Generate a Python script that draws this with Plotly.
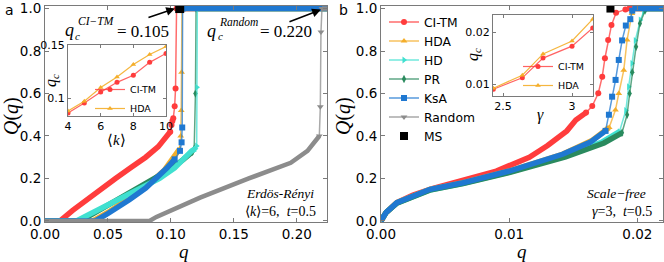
import plotly.graph_objects as go

W, H = 664, 262

# ================= Panel a : Erdos-Renyi, <k>=6, t=0.5 =================
# dense part (thick band), jump part (line + markers), flat top (Q = 1)
er_citm_q = [0, 0.012, 0.022, 0.033, 0.045, 0.056, 0.068, 0.080, 0.090, 0.097, 0.0995]
er_citm_Q = [0, 0, 0.05, 0.10, 0.15, 0.20, 0.25, 0.30, 0.35, 0.40, 0.42]
er_citm_jq = [0.0995, 0.1005, 0.1012, 0.1019, 0.1030, 0.1037, 0.1045]
er_citm_jQ = [0.42, 0.452, 0.47, 0.484, 0.54, 0.624, 1.0]
er_citm_top = [0.1045, 0.224]

er_hda_q = [0, 0.038, 0.050, 0.065, 0.080, 0.095, 0.103, 0.107]
er_hda_Q = [0, 0, 0.04, 0.10, 0.16, 0.24, 0.30, 0.34]
er_hda_jq = [0.107, 0.1078, 0.1082, 0.1085, 0.1088]
er_hda_jQ = [0.34, 0.40, 0.52, 0.70, 1.0]
er_hda_top = [0.1088, 0.224]

er_hd_q = [0, 0.025, 0.035, 0.047, 0.059, 0.075, 0.091, 0.103, 0.111, 0.1165, 0.1195]
er_hd_Q = [0, 0, 0.03, 0.065, 0.10, 0.15, 0.20, 0.25, 0.30, 0.33, 0.34]
er_hd_jq = [0.1195, 0.1205, 0.1207, 0.1210]
er_hd_jQ = [0.34, 0.353, 0.629, 1.0]
er_hd_top = [0.1210, 0.224]

er_pr_q = [0, 0.028, 0.040, 0.055, 0.070, 0.085, 0.100, 0.110, 0.117]
er_pr_Q = [0, 0, 0.04, 0.09, 0.14, 0.19, 0.245, 0.29, 0.325]
er_pr_jq = [0.117, 0.1185, 0.1195, 0.1200]
er_pr_jQ = [0.325, 0.34, 0.60, 1.0]
er_pr_top = [0.1200, 0.224]

er_ksa_q = [0, 0.040, 0.050, 0.060, 0.067, 0.080, 0.0888, 0.097, 0.103]
er_ksa_Q = [0, 0, 0.035, 0.07, 0.10, 0.155, 0.20, 0.25, 0.29]
er_ksa_jq = [0.103, 0.1072, 0.1085, 0.1090, 0.1093]
er_ksa_jQ = [0.29, 0.33, 0.37, 0.44, 1.0]
er_ksa_top = [0.1093, 0.224]

er_rnd_q = [0, 0.083, 0.0885, 0.1232, 0.1619, 0.1952, 0.2085, 0.2179]
er_rnd_Q = [0, 0, 0.019, 0.11, 0.20, 0.274, 0.33, 0.40]
er_rnd_jq = [0.2179, 0.2187, 0.2192, 0.2200]
er_rnd_jQ = [0.40, 0.538, 0.89, 1.0]
er_rnd_top = [0.2200, 0.224]

er_ms_q = [0.107]
er_ms_Q = [1.0]

# ================= Panel b : Scale-free, gamma=3, t=0.5 =================
sf_citm_q = [0, 0.0004, 0.00124, 0.0025, 0.0040, 0.0064, 0.0090, 0.01157, 0.0130, 0.0145, 0.0152, 0.0160]
sf_citm_Q = [0, 0.04, 0.086, 0.122, 0.152, 0.192, 0.235, 0.30, 0.355, 0.424, 0.475, 0.51]
sf_citm_jq = [0.0160, 0.01648, 0.01695, 0.01726, 0.01747, 0.01772, 0.01798, 0.01834, 0.01907]
sf_citm_jQ = [0.51, 0.541, 0.601, 0.679, 0.766, 0.852, 0.922, 0.98, 0.996]
sf_citm_top = [0.0192, 0.022]

sf_hda_q = [0, 0.0004, 0.00124, 0.0025, 0.00382, 0.0064, 0.0100, 0.01416, 0.0165, 0.0178]
sf_hda_Q = [0, 0.04, 0.086, 0.12, 0.149, 0.18, 0.235, 0.314, 0.38, 0.44]
sf_hda_jq = [0.0178, 0.01829, 0.01855, 0.01894, 0.0192, 0.01946, 0.01958]
sf_hda_jQ = [0.44, 0.522, 0.60, 0.71, 0.852, 0.946, 0.977]
sf_hda_top = [0.0196, 0.022]

sf_hd_q = [0, 0.0004, 0.00124, 0.0025, 0.0038, 0.0064, 0.0100, 0.0143, 0.0172, 0.0186]
sf_hd_Q = [0, 0.04, 0.085, 0.118, 0.146, 0.177, 0.23, 0.305, 0.37, 0.42]
sf_hd_jq = [0.0186, 0.0191, 0.01932, 0.01958, 0.01984, 0.02023, 0.0205]
sf_hd_jQ = [0.42, 0.52, 0.632, 0.742, 0.85, 0.946, 0.985]
sf_hd_top = [0.0206, 0.022]

sf_pr_q = [0, 0.0004, 0.00124, 0.0025, 0.0038, 0.0064, 0.0100, 0.0144, 0.0174, 0.0188]
sf_pr_Q = [0, 0.04, 0.084, 0.117, 0.145, 0.176, 0.228, 0.302, 0.367, 0.415]
sf_pr_jq = [0.0188, 0.0192, 0.0194, 0.0196, 0.0199, 0.0202, 0.0206]
sf_pr_jQ = [0.415, 0.50, 0.60, 0.70, 0.82, 0.93, 0.99]
sf_pr_top = [0.0207, 0.022]

sf_ksa_q = [0, 0.0004, 0.00124, 0.0025, 0.00382, 0.0064, 0.0100, 0.01416, 0.0163, 0.01752]
sf_ksa_Q = [0, 0.04, 0.086, 0.12, 0.149, 0.18, 0.235, 0.314, 0.37, 0.424]
sf_ksa_jq = [0.01752, 0.01778, 0.01803, 0.0183, 0.01855, 0.01881, 0.0191, 0.01945, 0.0196]
sf_ksa_jQ = [0.424, 0.50, 0.585, 0.664, 0.758, 0.85, 0.92, 0.95, 0.99]
sf_ksa_top = [0.0196, 0.022]

sf_ms_q = [0.0179]
sf_ms_Q = [1.0]

# ================= Insets =================
inset_k = [4, 5, 6, 7, 8, 9, 10]
inset_a_citm = [0.0858, 0.0953, 0.1057, 0.115, 0.1217, 0.134, 0.1425]
inset_a_hda = [0.0877, 0.097, 0.110, 0.120, 0.132, 0.1415, 0.149]

inset_gamma = [2.43, 2.64, 2.79, 3.0, 3.15]
inset_b_citm = [0.0090, 0.0112, 0.0150, 0.0173, 0.0208]
inset_b_hda = [0.0092, 0.0117, 0.0158, 0.0183, 0.0225]

# tick labels
er_xticks = [0, 0.05, 0.10, 0.15, 0.20]
er_xtext = ["0.00", "0.05", "0.10", "0.15", "0.20"]
sf_xticks = [0, 0.01, 0.02]
sf_xtext = ["0.00", "0.01", "0.02"]
q_yticks = [0, 0.2, 0.4, 0.6, 0.8, 1.0]
q_ytext = ["0.0", "0.2", "0.4", "0.6", "0.8", "1.0"]

# ================= styling =================
RED = "#ff3c3c"
ORANGE = "#f4ae2a"
CYAN = "#40e0d0"
GREEN = "#2a8a5e"
BLUE = "#1f78d1"
GREY = "#8c8c8c"


def PX(x):
    return x / W


def PY(y):
    return 1 - y / H


def rgba(h, a):
    h = h.lstrip("#")
    r, g, b = int(h[0:2], 16), int(h[2:4], 16), int(h[4:6], 16)
    return f"rgba({r},{g},{b},{a})"


fig = go.Figure()


def add_method(xa, ya, name, color, symbol, msize, ql, Ql, qj, Qj, qt, legend, bandw=5.5):
    xs = list(ql) + [None] + list(qt)
    ys = list(Ql) + [None] + [1.0] * len(qt)
    fig.add_trace(go.Scatter(x=xs, y=ys, xaxis=xa, yaxis=ya, mode="lines",
                             line=dict(color=color, width=bandw), showlegend=False,
                             hoverinfo="skip"))
    fig.add_trace(go.Scatter(x=qj, y=Qj, xaxis=xa, yaxis=ya, mode="lines+markers",
                             name=name, legend="legend",
                             line=dict(color=rgba(color, 0.75), width=1.5),
                             marker=dict(symbol=symbol, size=msize, color=color,
                                         line=dict(width=0)),
                             showlegend=legend))


# drawing order in panel a: PR below HD
methods_a = [
    ("CI-TM", RED, "circle", 6, er_citm_q, er_citm_Q, er_citm_jq, er_citm_jQ, er_citm_top, 5.5),
    ("HDA", ORANGE, "triangle-up", 6, er_hda_q, er_hda_Q, er_hda_jq, er_hda_jQ, er_hda_top, 5.5),
    ("PR", GREEN, "diamond-tall", 6, er_pr_q, er_pr_Q, er_pr_jq, er_pr_jQ, er_pr_top, 5.5),
    ("HD", CYAN, "triangle-right", 6, er_hd_q, er_hd_Q, er_hd_jq, er_hd_jQ, er_hd_top, 5.5),
    ("KsA", BLUE, "square", 6, er_ksa_q, er_ksa_Q, er_ksa_jq, er_ksa_jQ, er_ksa_top, 5.5),
    ("Random", GREY, "triangle-down", 6, er_rnd_q, er_rnd_Q, er_rnd_jq, er_rnd_jQ, er_rnd_top, 4.5),
]
for m in methods_a:
    add_method("x", "y", m[0], m[1], m[2], m[3], m[4], m[5], m[6], m[7], m[8], False, m[9])
fig.add_trace(go.Scatter(x=er_ms_q, y=er_ms_Q, xaxis="x", yaxis="y", mode="markers",
                         marker=dict(symbol="square", size=9, color="black"),
                         showlegend=False, name="MS"))

methods_b = [
    ("CI-TM", RED, "circle", 6, sf_citm_q, sf_citm_Q, sf_citm_jq, sf_citm_jQ, sf_citm_top),
    ("HDA", ORANGE, "triangle-up", 6, sf_hda_q, sf_hda_Q, sf_hda_jq, sf_hda_jQ, sf_hda_top),
    ("HD", CYAN, "triangle-right", 6, sf_hd_q, sf_hd_Q, sf_hd_jq, sf_hd_jQ, sf_hd_top),
    ("PR", GREEN, "diamond-tall", 6, sf_pr_q, sf_pr_Q, sf_pr_jq, sf_pr_jQ, sf_pr_top),
    ("KsA", BLUE, "square", 6, sf_ksa_q, sf_ksa_Q, sf_ksa_jq, sf_ksa_jQ, sf_ksa_top),
]
for m in methods_b:
    add_method("x2", "y2", m[0], m[1], m[2], m[3], m[4], m[5], m[6], m[7], m[8], True)
# Random: off-scale in panel b, shown in the legend only
fig.add_trace(go.Scatter(x=[None], y=[None], xaxis="x2", yaxis="y2", mode="lines+markers",
                         name="Random", line=dict(color=rgba(GREY, 0.75), width=1.5),
                         marker=dict(symbol="triangle-down", size=6, color=GREY)))
fig.add_trace(go.Scatter(x=sf_ms_q, y=sf_ms_Q, xaxis="x2", yaxis="y2", mode="markers",
                         name="MS", marker=dict(symbol="square", size=8, color="black")))

# insets
fig.add_trace(go.Scatter(x=inset_k, y=inset_a_citm, xaxis="x3", yaxis="y3", mode="lines+markers",
                         name="CI-TM", legend="legend2", line=dict(color=rgba(RED, 0.8), width=1.2),
                         marker=dict(symbol="circle", size=5, color=RED)))
fig.add_trace(go.Scatter(x=inset_k, y=inset_a_hda, xaxis="x3", yaxis="y3", mode="lines+markers",
                         name="HDA", legend="legend2", line=dict(color=rgba(ORANGE, 0.9), width=1.2),
                         marker=dict(symbol="triangle-up", size=5, color=ORANGE)))
fig.add_trace(go.Scatter(x=inset_gamma, y=inset_b_citm, xaxis="x4", yaxis="y4", mode="lines+markers",
                         name="CI-TM", legend="legend3", line=dict(color=rgba(RED, 0.8), width=1.2),
                         marker=dict(symbol="circle", size=5, color=RED)))
fig.add_trace(go.Scatter(x=inset_gamma, y=inset_b_hda, xaxis="x4", yaxis="y4", mode="lines+markers",
                         name="HDA", legend="legend3", line=dict(color=rgba(ORANGE, 0.9), width=1.2),
                         marker=dict(symbol="triangle-up", size=5, color=ORANGE)))

AX = dict(showline=True, linecolor="#7a7a7a", linewidth=1, mirror="ticks", ticks="inside",
          ticklen=4, tickcolor="#7a7a7a", showgrid=False, zeroline=False, automargin=False,
          tickfont=dict(family="DejaVu Sans", size=13.5, color="black"))
AXI = dict(AX, ticklen=3, tickfont=dict(family="DejaVu Sans", size=11, color="black"))

ydom = [PY(222), PY(6)]
fig.update_layout(
    template="none",
    width=W, height=H, margin=dict(l=0, r=0, t=0, b=0, autoexpand=False),
    paper_bgcolor="white", plot_bgcolor="white",
    xaxis=dict(AX, domain=[PX(45), PX(327)], range=[0, 0.224], anchor="y",
               tickvals=er_xticks, ticktext=er_xtext),
    yaxis=dict(AX, domain=ydom, range=[-0.005, 1.012], anchor="x",
               tickvals=q_yticks, ticktext=q_ytext),
    xaxis2=dict(AX, domain=[PX(381), PX(663)], range=[0, 0.022], anchor="y2",
                tickvals=sf_xticks, ticktext=sf_xtext),
    yaxis2=dict(AX, domain=ydom, range=[-0.005, 1.012], anchor="x2",
                tickvals=q_yticks, ticktext=q_ytext),
    xaxis3=dict(AXI, domain=[PX(68), PX(166)], range=[4, 10], anchor="y3",
                tickvals=[4, 6, 8, 10]),
    yaxis3=dict(AXI, domain=[PY(116), PY(45)], range=[0.083, 0.1505], anchor="x3",
                tickvals=[0.1, 0.15], ticktext=["0.1", "0.15"]),
    xaxis4=dict(AXI, domain=[PX(493), PX(593)], range=[2.4275, 3.152], anchor="y4",
                tickvals=[2.5, 3], ticktext=["2.5", "3"]),
    yaxis4=dict(AXI, domain=[PY(96), PY(15)], range=[0.0077, 0.0233], anchor="x4",
                tickvals=[0.01, 0.02], ticktext=["0.01", "0.02"]),
    legend=dict(x=PX(384), y=PY(79), xanchor="left", yanchor="middle",
                font=dict(family="DejaVu Sans", size=12.3, color="black"),
                bgcolor="rgba(0,0,0,0)", itemwidth=30, tracegroupgap=0),
    legend2=dict(x=PX(90), y=PY(99), xanchor="left", yanchor="middle",
                 font=dict(family="DejaVu Sans", size=9.5, color="black"),
                 bgcolor="rgba(0,0,0,0)", itemwidth=30),
    legend3=dict(x=PX(518), y=PY(76), xanchor="left", yanchor="middle",
                 font=dict(family="DejaVu Sans", size=9.5, color="black"),
                 bgcolor="rgba(0,0,0,0)", itemwidth=30),
)

SERIF = "Liberation Serif"


def txt(text, x, y, size, family=SERIF, angle=0, xanchor="center", yanchor="middle"):
    fig.add_annotation(text=text, x=PX(x), y=PY(y), xref="paper", yref="paper",
                       showarrow=False, textangle=angle, xanchor=xanchor, yanchor=yanchor,
                       font=dict(family=family, size=size, color="black"))


txt("a", 9, 0, 14, family="DejaVu Sans", yanchor="top")
txt("b", 343, 0, 14, family="DejaVu Sans", yanchor="top")
txt("<i>Q</i>(<i>q</i>)", 11, 116, 20, angle=-90)
txt("<i>Q</i>(<i>q</i>)", 343, 116, 20, angle=-90)
txt("<i>q</i>", 184, 251, 19)
txt("<i>q</i>", 522, 251, 19)
txt("<i>q<sub>c</sub></i>", 51, 81, 16, angle=-90)
txt("⟨<i>k</i>⟩", 116, 140, 15)
txt("<i>q<sub>c</sub></i>", 474, 55, 16, angle=-90)
txt("<i>γ</i>", 540, 115, 16)
txt("<i>Erdös-Rényi</i>", 316, 193, 13.5, xanchor="right")
txt("⟨<i>k</i>⟩=6,  <i>t</i>=0.5", 318, 211, 14, xanchor="right")
txt("<i>Scale−free</i>", 648, 193, 13.5, xanchor="right")
txt("<i>γ</i>=3,  <i>t</i>=0.5", 654, 211, 14, xanchor="right")

# critical point labels
txt("<i>q</i>", 69, 30, 18)
txt("<i>c</i>", 77, 36, 11)
txt("<i>CI−TM</i>", 96, 21, 11.5)
txt("= 0.105", 143, 31, 17)
txt("<i>q</i>", 212, 31, 18)
txt("<i>c</i>", 220, 36, 11)
txt("<i>Random</i>", 238, 22, 11.5)
txt("= 0.220", 286, 32, 17)

fig.add_annotation(x=0.1033, y=1.0, ax=0.081, ay=0.956, xref="x", yref="y", axref="x", ayref="y",
                   text="", showarrow=True, arrowhead=2, arrowsize=1.1, arrowwidth=1.6,
                   arrowcolor="black")
fig.add_annotation(x=0.2192, y=0.995, ax=0.193, ay=0.935, xref="x", yref="y", axref="x", ayref="y",
                   text="", showarrow=True, arrowhead=2, arrowsize=1.1, arrowwidth=1.6,
                   arrowcolor="black")

fig.write_html("out.html", config={"displayModeBar": False, "staticPlot": True},
               post_script="document.body.style.margin='0px';")
